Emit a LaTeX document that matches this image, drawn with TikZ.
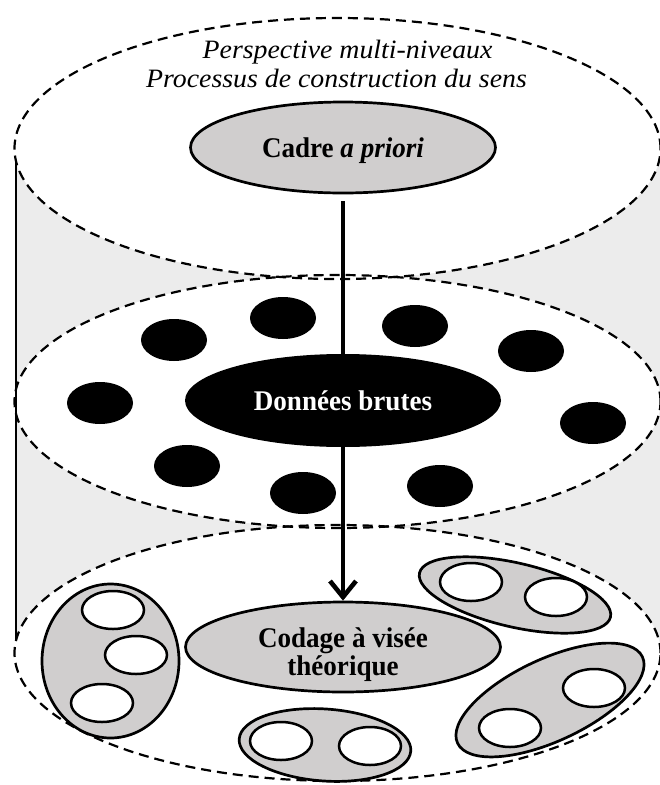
\documentclass[tikz,border=0pt]{standalone}
\usepackage{fontspec}
\setmainfont{Liberation Serif}
\usetikzlibrary{shapes.geometric,arrows.meta}
\definecolor{cyl}{RGB}{236,236,236}
\definecolor{lgray}{RGB}{208,206,206}
% text scaled horizontally, first baseline lowered by #2 below the node centre
\newcommand\sqtext[3]{\raisebox{-#2}[0pt][0pt]{\scalebox{#1}[1]{\begin{tabular}[t]{@{}c@{}}#3\end{tabular}}}}
\begin{document}
\begin{tikzpicture}[x=1pt,y=-1pt,
  dashedge/.style={draw=black, line width=2.2pt, dash pattern=on 10pt off 6pt},
  grayell/.style={ellipse, draw=black, line width=2.7pt, fill=lgray, inner sep=0pt},
  blackdot/.style={ellipse, fill=black, minimum width=66pt, minimum height=42pt, inner sep=0pt},
  hole/.style={ellipse, draw=black, line width=2.5pt, fill=white, minimum width=62pt, minimum height=38pt, inner sep=0pt},
  lbl/.style={font=\fontsize{28.5}{28}\selectfont\bfseries}
]
\useasboundingbox (0,0) rectangle (660,785);
\clip (0,0) rectangle (660,785);
% cylinder body
\fill[cyl] (16,148.5) rectangle (680,653);
\fill[white] (337.5,148.5) ellipse [x radius=323pt, y radius=130.5pt];
\fill[white] (337.5,401.5) ellipse [x radius=323pt, y radius=126.5pt];
\fill[white] (337.5,653) ellipse [x radius=323pt, y radius=128pt];
\draw[dashedge] (337.5,148.5) ellipse [x radius=323pt, y radius=130.5pt];
\draw[dashedge] (337.5,401.5) ellipse [x radius=323pt, y radius=126.5pt];
\draw[dashedge] (337.5,653) ellipse [x radius=323pt, y radius=128pt];
\coordinate (lt) at (16,161);
\coordinate (lb) at (16,641);
\draw[line width=2.3pt] (lt) -- (lb);
% title
\node[font=\fontsize{26.5}{28.5}\selectfont\itshape, inner sep=0pt] (title) at (336.5,0)
  {\sqtext{1.05}{58.5pt}{Perspective multi-niveaux\hspace*{-21pt}\\Processus de construction du sens}};
% main nodes
\node[grayell, minimum width=305pt, minimum height=91pt, lbl] (cadre) at (343,147.5)
  {\sqtext{0.95}{10pt}{Cadre \textit{a priori}}};
\node[grayell, minimum width=315pt, minimum height=90pt, lbl] (codage) at (343,647)
  {\sqtext{0.95}{0pt}{Codage à visée\\théorique}};
\draw[line width=4.6pt, -{Straight Barb[length=16pt, width=26pt]}, shorten <=7pt] (cadre.south) -- (codage.north);
\node[ellipse, fill=black, minimum width=316pt, minimum height=93pt, inner sep=0pt, lbl, text=white] (donnees) at (343,400.5)
  {\sqtext{0.95}{10pt}{Données brutes}};
% black dots
\node[blackdot] (d1) at (174,340) {};
\node[blackdot] (d2) at (283,318) {};
\node[blackdot] (d3) at (415,326) {};
\node[blackdot] (d4) at (531,351) {};
\node[blackdot] (d5) at (100,403) {};
\node[blackdot] (d6) at (593,423) {};
\node[blackdot] (d7) at (187,466) {};
\node[blackdot] (d8) at (303,493) {};
\node[blackdot] (d9) at (440,486) {};
% groups
\node[grayell, minimum width=137pt, minimum height=154pt] (gA) at (110.5,661) {};
\node[hole] (a1) at (113,610) {};
\node[hole] (a2) at (136,655) {};
\node[hole] (a3) at (102,703) {};
\node[grayell, minimum width=196pt, minimum height=64pt, rotate=-13] (gB) at (515,595) {};
\node[hole] (b1) at (471,582) {};
\node[hole] (b2) at (556,597) {};
\node[grayell, minimum width=204pt, minimum height=82pt, rotate=25] (gC) at (550,700) {};
\node[hole] (c1) at (594,688) {};
\node[hole] (c2) at (510,728) {};
\node[grayell, minimum width=172pt, minimum height=72pt, rotate=-4] (gD) at (325,745) {};
\node[hole] (e1) at (281,741) {};
\node[hole] (e2) at (370,746) {};
\end{tikzpicture}
\end{document}
